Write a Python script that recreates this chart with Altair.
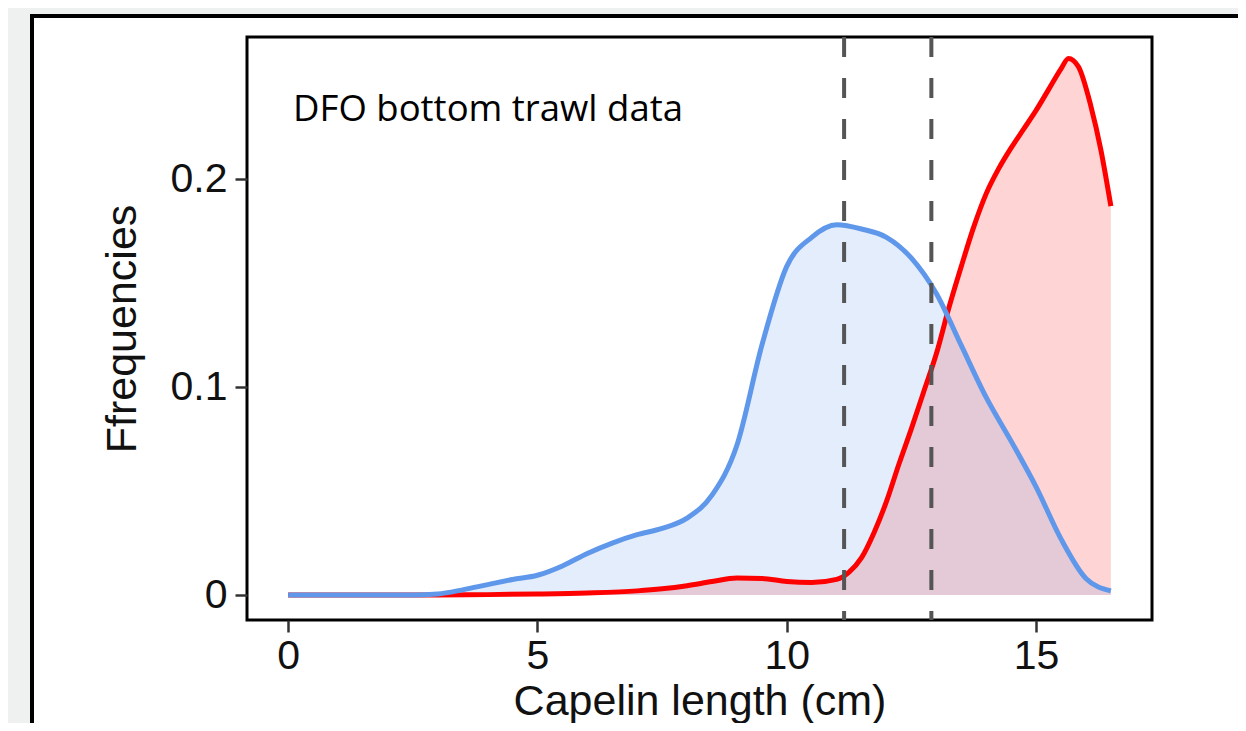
import altair as alt
import pandas as pd

# ---- data ----
blue_x = [0, 1, 2, 2.5, 3.0, 3.5, 4.0, 4.5, 5.0, 5.5, 6.0, 6.5, 7.0, 7.5, 8.0, 8.5, 9.0, 9.5,
          10.0, 10.5, 11.0, 11.5, 12.0, 12.5, 13.0, 13.5, 14.0, 14.5, 15.0, 15.5, 16.0, 16.5]
blue_y = [0, 0, 0, 0, 0.0005, 0.0025, 0.005, 0.0075, 0.0095, 0.014, 0.02, 0.025, 0.029, 0.032,
          0.037, 0.048, 0.072, 0.12, 0.158, 0.172, 0.178, 0.176, 0.172, 0.162, 0.145, 0.12,
          0.095, 0.074, 0.052, 0.027, 0.008, 0.002]

red_x = [0, 1, 2, 3, 4, 5, 6, 7, 7.5, 8, 8.5, 9, 9.5, 10, 10.5, 11, 11.25, 11.5, 11.75, 12,
         12.25, 12.5, 12.75, 13, 13.25, 13.5, 13.75, 14, 14.25, 14.5, 14.75, 15, 15.25, 15.5,
         15.65, 15.85, 16.1, 16.3, 16.5]
red_y = [0, 0, 0, 0, 0.0002, 0.0005, 0.001, 0.002, 0.003, 0.0045, 0.0065, 0.0082, 0.008,
         0.0065, 0.006, 0.0075, 0.011, 0.018, 0.03, 0.045, 0.063, 0.08, 0.098, 0.116, 0.138,
         0.158, 0.177, 0.193, 0.205, 0.215, 0.224, 0.233, 0.243, 0.253, 0.258, 0.254, 0.235,
         0.214, 0.187]

cutoffs = [11.15, 12.9]
label_text = ["DFO bottom trawl data"]
x_ticks = [0, 5, 10, 15]
y_ticks = [0, 0.1, 0.2]

BLUE = "#5F97EA"
RED = "#FF0000"
FONT = "Liberation Sans"

blue_df = pd.DataFrame({"x": blue_x, "y": blue_y})
red_df = pd.DataFrame({"x": red_x, "y": red_y})
cut_df = pd.DataFrame({"x": cutoffs})
txt_df = pd.DataFrame({"x": [0.1], "y": [0.233], "t": label_text})

W, H = 905, 583
xs = alt.Scale(domain=[-0.825, 17.325], nice=False, zero=False)
ys = alt.Scale(domain=[-0.012, 0.2683], nice=False, zero=False)

xax = alt.Axis(values=x_ticks, format="d", title="Capelin length (cm)", zindex=2)
yax = alt.Axis(values=y_ticks, format=".1~f", title="Ffrequencies", zindex=2)

# white card with black border (decoration around the figure)
card = alt.Chart(pd.DataFrame({"k": [0]})).mark_rect(
    fill="white", stroke="black", strokeWidth=4
).encode(x=alt.value(-215), x2=alt.value(1010), y=alt.value(-21), y2=alt.value(720))

frame = alt.Chart(pd.DataFrame({"k": [0]})).mark_rect(
    fill="white", stroke="black", strokeWidth=3
).encode(x=alt.value(0), x2=alt.value(W), y=alt.value(0), y2=alt.value(H))

red_area = alt.Chart(red_df).mark_area(color=RED, opacity=0.17, interpolate="monotone").encode(
    x=alt.X("x:Q", scale=xs, axis=xax), y=alt.Y("y:Q", scale=ys, axis=yax))
blue_area = alt.Chart(blue_df).mark_area(color=BLUE, opacity=0.17, interpolate="monotone").encode(
    x=alt.X("x:Q", scale=xs, axis=xax), y=alt.Y("y:Q", scale=ys, axis=yax))
red_line = alt.Chart(red_df).mark_line(color=RED, strokeWidth=5, interpolate="monotone").encode(
    x=alt.X("x:Q", scale=xs, axis=xax), y=alt.Y("y:Q", scale=ys, axis=yax))
blue_line = alt.Chart(blue_df).mark_line(color=BLUE, strokeWidth=5, interpolate="monotone").encode(
    x=alt.X("x:Q", scale=xs, axis=xax), y=alt.Y("y:Q", scale=ys, axis=yax))
rules = alt.Chart(cut_df).mark_rule(color="#555555", strokeWidth=4, strokeDash=[20, 21]).encode(
    x=alt.X("x:Q", scale=xs, axis=xax))
text = alt.Chart(txt_df).mark_text(
    align="left", baseline="middle", font="Open Sans", fontSize=36.5, color="black"
).encode(x=alt.X("x:Q", scale=xs, axis=xax), y=alt.Y("y:Q", scale=ys, axis=yax), text="t:N")

chart = alt.layer(card, frame, red_area, blue_area, red_line, blue_line, rules, text).properties(
    width=W, height=H,
    autosize=alt.AutoSizeParams(type="none"),
    padding={"left": 239, "top": 29, "right": 86, "bottom": 103},
    background="#EFF1F0",
).configure_view(strokeWidth=0).configure_axis(
    domain=False, grid=False,
    tickColor="#333333", tickWidth=2.5, tickSize=12,
    labelFont=FONT, labelFontSize=41, labelColor="#111111", labelPadding=4,
    titleFont=FONT, titleFontSize=43, titleFontWeight="normal", titleColor="#111111",
).configure_axisY(labelPadding=8, titlePadding=26).configure_axisX(titlePadding=4)

chart.save("out.html", embed_options={"renderer": "svg", "actions": False})
